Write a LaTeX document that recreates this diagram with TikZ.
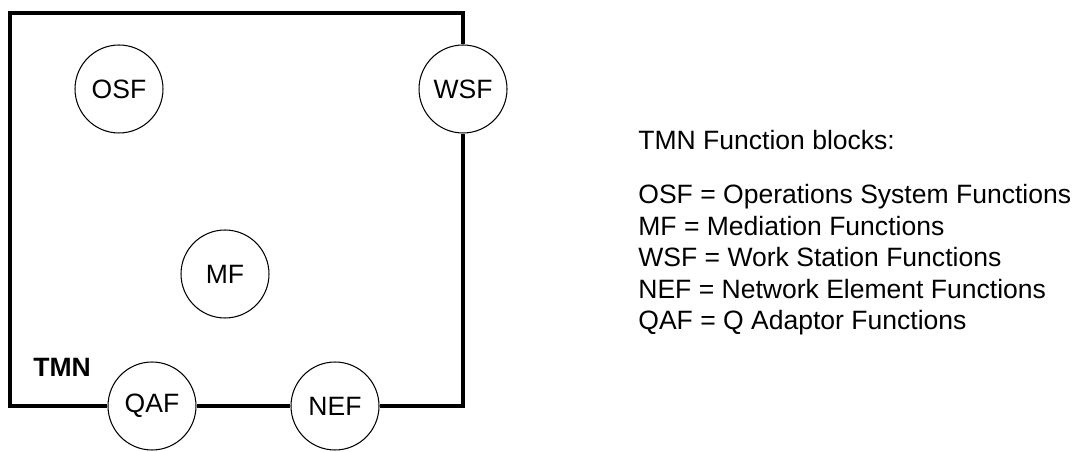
\documentclass[tikz,border=0pt]{standalone}
\usepackage{fontspec}
\setmainfont{Liberation Sans}
\usetikzlibrary{positioning}
\tikzset{
  fblock/.style={draw, circle, fill=white, minimum size=1.76cm, inner sep=0pt, line width=0.6pt},
  frame/.style={line width=1.9pt},
  legend/.style={anchor=base west, inner sep=0pt}}

\begin{document}
\begin{tikzpicture}[x=0.02cm, y=0.02cm, font=\fontsize{15.1pt}{18pt}\selectfont]
  \useasboundingbox (0,0) rectangle (1077,452);
  % function blocks
  \node[fblock] (OSF) at (119,363) {OSF};
  \node[fblock] (WSF) at (463,363) {WSF};
  \node[fblock] (MF) at (225,178) {MF};
  \node[fblock] (QAF) at (152,46) {QAF};
  \node[fblock] (NEF) at (335,46) {NEF};
  \node[legend, font=\fontsize{15.1pt}{18pt}\selectfont\bfseries] (tmn) at (33,75) {TMN};
  % TMN border
  \coordinate (tl) at (10,439);
  \coordinate (bl) at (10,46);
  \draw[frame] (WSF) |- (tl) -- (bl) -- (QAF);
  \draw[frame] (QAF) -- (NEF);
  \draw[frame] (NEF) -| (WSF);
  % legend
  \node[legend] (title) at (638,302) {TMN Function blocks:};
  \foreach \t [count=\i] in {OSF = Operations System Functions, MF = Mediation Functions,
      WSF = Work Station Functions, NEF = Network Element Functions, QAF = Q Adaptor Functions}
    \node[legend] (l\i) at (638,{248-31.5*(\i-1)}) {\t};
\end{tikzpicture}
\end{document}
